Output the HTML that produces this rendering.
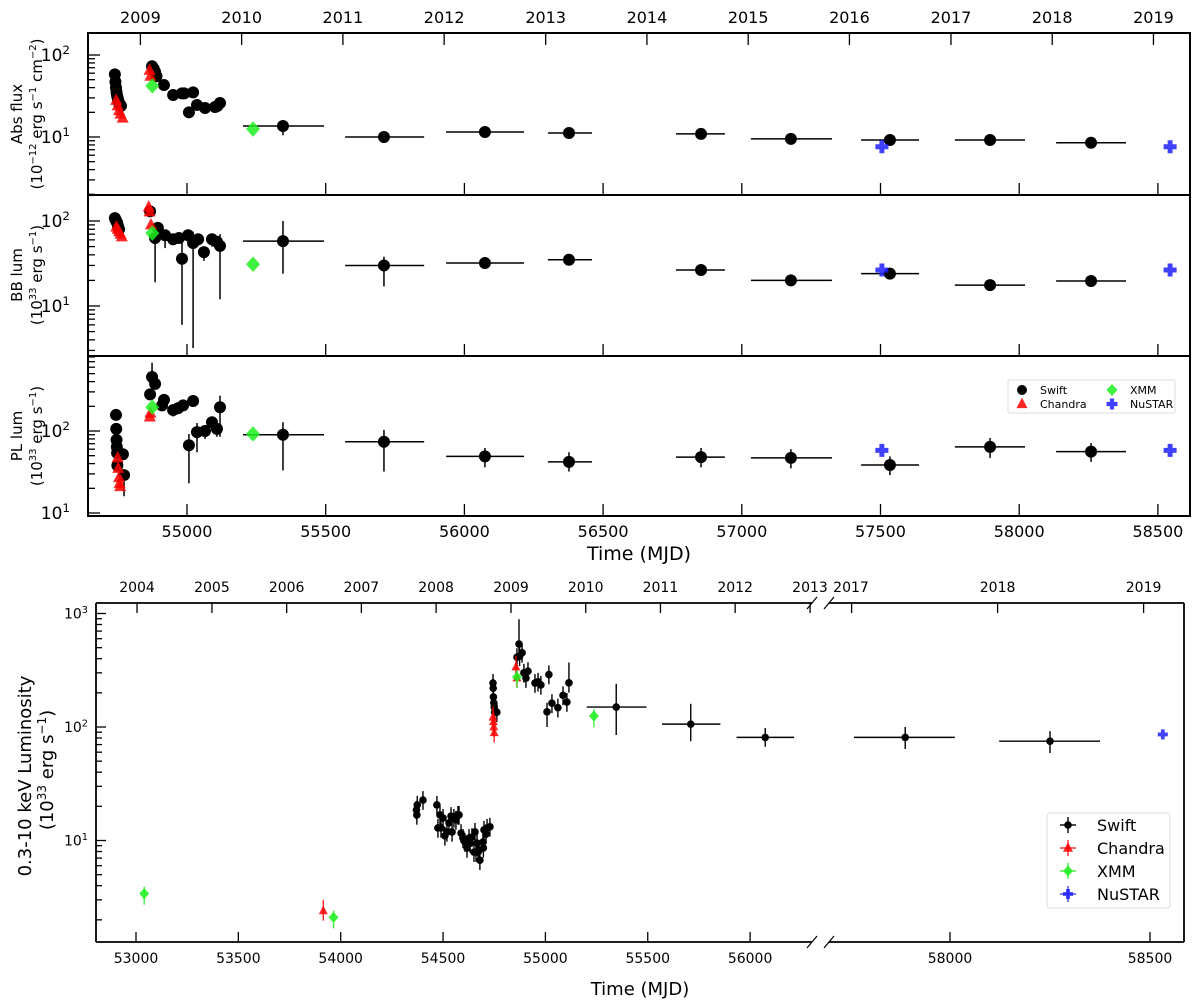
<!DOCTYPE html>
<html><head><meta charset="utf-8"><title>Light curves</title>
<style>
html,body{margin:0;padding:0;background:#fff;}
svg{display:block;font-family:"DejaVu Sans","Liberation Sans",sans-serif;}
</style></head>
<body>
<svg id="chart" width="1200" height="1004" viewBox="0 0 1200 1004" xmlns="http://www.w3.org/2000/svg"></svg>
<script>
// ===== Panel 1: absorbed flux =====
const fluxSwiftMjd = [54740,54742,54744,54746,54748,54750,54752,54755,54758,54762,54874,54880,54885,54890,54917,54950,54982,54990,55022,55007,55036,55065,55101,55119,55110];
const fluxSwiftVal = [58,47,40,35,32,30,28,26,25,24,73,68,62,55,43,32.5,34,34,35,20,24.6,22.6,23.2,26,24];
const binMjd = [55346,55710,56074,56377,56853,57177,57534,57895,58259];
const binLo = [55202,55570,55934,56301,56763,57033,57430,57768,58133];
const binHi = [55494,55855,56215,56460,56939,57325,57639,58021,58385];
const fluxBinVal = [13.6,10,11.5,11.2,10.9,9.5,9.2,9.2,8.5];
const fluxBinErrLo = [10.5,8.8,11,10.8,10.3,9.1,8.8,8.8,8.1];
const fluxBinErrHi = [14.5,11,12,11.6,11.5,9.9,9.6,9.6,8.9];
const fluxChandraMjd = [54745,54750,54755,54760,54768,54865,54868];
const fluxChandraVal = [28,24,21,19,17,65,55];
const fluxXmmMjd = [54875,55238];
const fluxXmmVal = [42,12.5];
const fluxNustarMjd = [57505,58544];
const fluxNustarVal = [7.6,7.6];

// ===== Panel 2: BB luminosity =====
const bbSwiftMjd = [54740,54742,54745,54748,54751,54755,54867,54885,54895,54921,54950,54971,54982,55004,55022,55040,55061,55090,55108,55119];
const bbSwiftVal = [108,104,100,95,88,80,130,63,83,68,61,63,36,68,55,61,43,61,57,51];
const bbSwiftErrLo = [null,null,null,null,null,null,null,19,null,48,52,55,6,null,3.2,55,34,50,null,12];
const bbSwiftErrHi = [null,null,null,null,null,null,null,null,null,null,null,null,60,null,75,null,null,null,null,70];
const bbBinVal = [58,30,32,35,26.5,20,24,17.6,19.7];
const bbBinErrLo = [24,17,30,32,24,18.5,22,16,18];
const bbBinErrHi = [100,38,34,38,29,21.5,26,19,21.5];
const bbChandraMjd = [54745,54750,54755,54760,54765,54862,54865,54870];
const bbChandraVal = [85,80,75,70,65,146,128,90];
const bbXmmMjd = [54875,55238];
const bbXmmVal = [72,31];
const bbNustarMjd = [57505,58544];
const bbNustarVal = [26.5,26.5];

// ===== Panel 3: PL luminosity =====
const plSwiftMjd = [54744,54745,54746,54747,54748,54749,54769,54773,54874,54885,54867,54917,54910,54950,54968,54986,55022,55007,55036,55065,55090,55108,55119];
const plSwiftVal = [157,106,78,64,54,38,52,29,455,375,280,240,205,180,190,205,232,67,97,100,128,106,195];
const plSwiftErrLo = [null,null,null,null,null,null,null,16,null,null,null,null,null,150,160,null,null,23,55,80,100,85,85];
const plSwiftErrHi = [null,null,null,null,null,null,null,null,680,null,null,null,null,null,null,null,null,92,125,null,null,null,270];
const plBinVal = [90,74,49,42,48,47,38.5,64,56];
const plBinErrLo = [33,32,36,32,36,35,29,47,42];
const plBinErrHi = [128,103,62,55,62,60,49,82,71];
const plChandraMjd = [54750,54752,54755,54757,54759,54866,54868];
const plChandraVal = [47,35,27,23,21,148,165];
const plXmmMjd = [54875,55238];
const plXmmVal = [195,92];
const plNustarMjd = [57505,58544];
const plNustarVal = [58,58];

// ===== Bottom: 0.3-10 keV luminosity =====
const lumSwiftMjd = [54370,54372,54374,54402,54470,54475,54485,54490,54500,54509,54519,54529,54539,54544,54553,54563,54573,54578,54588,54597,54607,54617,54627,54632,54641,54651,54656,54661,54666,54671,54676,54680,54695,54700,54710,54715,54729,54697,
  54744,54745,54746,54748,54750,54752,54763,54871,54861,54886,54874,54895,54905,54915,54949,54964,54978,55008,55017,55032,55061,55086,55105,55115];
const lumSwiftVal = [18.6,16.8,20.6,22.7,20.6,12.9,16.8,12.9,15.8,11.0,11.9,14.3,16.4,11.9,15.8,15.2,16.8,16.8,11.6,10.5,9.7,8.6,10.5,9.5,10.7,7.9,11.9,7.9,9.5,7.9,8.2,6.7,9.7,12.4,11.4,12.9,13.2,8.6,
  244,220,184,163,150,135,135,538,412,450,420,300,270,310,244,250,235,136,290,162,148,190,166,245];
const lumBinMjd = [55346,55710,56074,57888,58250];
const lumBinLo = [55202,55570,55934,57760,58123];
const lumBinHi = [55494,55855,56215,58012,58375];
const lumBinVal = [150,106,81,81,75];
const lumBinErrLo = [85,75,67,64,59];
const lumBinErrHi = [240,160,98,100,92];
const lumChandraMjd = [53915,54744,54746,54748,54750,54856,54861];
const lumChandraVal = [2.4,122,111,100,89,338,270];
const lumXmmMjd = [53040,53965,54861,55237];
const lumXmmVal = [3.4,2.1,276,125];
const lumNustarMjd = [58532];
const lumNustarVal = [86];

const topMjdTicks = [55000,55500,56000,56500,57000,57500,58000,58500];
const topYearLabels = ['2009','2010','2011','2012','2013','2014','2015','2016','2017','2018','2019'];
const topYearMjd = [54832,55197,55562,55927,56293,56658,57023,57388,57754,58119,58484];
const botMjdTicks = [53000,53500,54000,54500,55000,55500,56000,58000,58500];
const botYearLabels = ['2004','2005','2006','2007','2008','2009','2010','2011','2012','2013','2017','2018','2019'];
const botYearMjd = [53005,53371,53736,54101,54466,54832,55197,55562,55927,56293,57754,58119,58484];

const NS = 'http://www.w3.org/2000/svg';
const svg = document.getElementById('chart');
function mk(tag, parent){ const e=document.createElementNS(NS,tag); parent.appendChild(e); return e; }
function line(p,x1,y1,x2,y2,w,c){ const l=mk('line',p); l.setAttribute('x1',x1);l.setAttribute('y1',y1);l.setAttribute('x2',x2);l.setAttribute('y2',y2);l.setAttribute('stroke',c||'#000');l.setAttribute('stroke-width',w||1.5); return l; }
function txt(p,x,y,s,size,anchor){ const t=mk('text',p); t.setAttribute('x',x);t.setAttribute('y',y);t.setAttribute('font-size',size);t.setAttribute('text-anchor',anchor||'middle');t.textContent=s; return t; }
function powLabel(p,x,y,exp,size,anchor){
  const t=mk('text',p); t.setAttribute('x',x);t.setAttribute('y',y);t.setAttribute('font-size',size);t.setAttribute('text-anchor',anchor||'end');
  const a=mk('tspan',t); a.textContent='10';
  const b=mk('tspan',t); b.setAttribute('dy',-size*0.4); b.setAttribute('font-size',size*0.7); b.textContent=exp;
  return t;
}
const RED='rgba(255,0,0,0.85)', GREEN='rgba(30,240,30,0.85)', BLUE='rgba(30,30,255,0.85)';
function marker(p,kind,x,y,s){
  let m;
  if(kind==='circle'){ m=mk('circle',p); m.setAttribute('cx',x);m.setAttribute('cy',y);m.setAttribute('r',s);m.setAttribute('fill','#000'); }
  else if(kind==='tri'){ m=mk('polygon',p); m.setAttribute('points',`${x},${y-s*1.15} ${x-s},${y+s*0.75} ${x+s},${y+s*0.75}`); m.setAttribute('fill',RED); }
  else if(kind==='diamond'){ m=mk('polygon',p); m.setAttribute('points',`${x},${y-s*1.1} ${x+s},${y} ${x},${y+s*1.1} ${x-s},${y}`); m.setAttribute('fill',GREEN); }
  else { m=mk('path',p); const a=s, b=s*0.38; m.setAttribute('d',`M${x-b},${y-a}H${x+b}V${y-b}H${x+a}V${y+b}H${x+b}V${y+a}H${x-b}V${y+b}H${x-a}V${y-b}H${x-b}Z`); m.setAttribute('fill',BLUE); }
  return m;
}
function series(p,name,kind,mjd,val,X,Y,s,opt){
  opt=opt||{};
  const g=mk('g',p);
  
  
  for(let i=0;i<mjd.length;i++){
    const x=X(mjd[i]), y=Y(val[i]);
    const col = kind==='circle'?'#000':(kind==='tri'?RED:(kind==='diamond'?GREEN:BLUE));
    if(opt.lo && opt.lo[i]!=null) line(g,x,y,x,Y(opt.lo[i]),opt.w||1.5,col);
    if(opt.hi && opt.hi[i]!=null) line(g,x,y,x,Y(opt.hi[i]),opt.w||1.5,col);
    if(opt.xlo) line(g,X(opt.xlo[i]),y,X(opt.xhi[i]),y,opt.w||1.5,col);
    const m=marker(g,kind,x,y,s);
    
    
  }
  return g;
}
function logTicks(p,X0,Y,top,bot,major,minor,labelX,size,expRange){
  const lo=expRange[0], hi=expRange[1];
  for(let d=lo; d<=hi; d++){
    for(let k=1;k<10;k++){
      const v=k*Math.pow(10,d), y=Y(v);
      if(y<top-0.5||y>bot+0.5) continue;
      line(p,X0,y,X0+(k===1?major:minor),y,1.3);
      if(k===1 && labelX!=null) powLabel(p,labelX,y+size*0.35,String(d),size);
    }
  }
}

// ===== TOP FIGURE =====
const TX = m => 187 + (m-55000)*0.2774;
const L=88, R=1190;
const panels = [
  {name:'abs-flux-panel', top:33, bot:195, Y:v=>137-82*(Math.log10(v)-1), er:[0,2], t1:'Abs flux', t2:['(10','−12',' erg s','−1',' cm','−2',')'], cy:114},
  {name:'bb-lum-panel', top:195, bot:356, Y:v=>221-85*(Math.log10(v)-2), er:[0,2], t1:'BB lum', t2:['(10','33',' erg s','−1',')'], cy:275},
  {name:'pl-lum-panel', top:356, bot:516, Y:v=>431-82*(Math.log10(v)-2), er:[0,2], t1:'PL lum', t2:['(10','33',' erg s','−1',')'], cy:436}
];
panels.forEach((P,pi)=>{
  const g=mk('g',svg);
  
  
  const clipId='clip'+pi;
  const cp=mk('clipPath',g); cp.setAttribute('id',clipId);
  const cr=mk('rect',cp); cr.setAttribute('x',L);cr.setAttribute('y',P.top);cr.setAttribute('width',R-L);cr.setAttribute('height',P.bot-P.top);
  const ax=mk('g',g);
  
  
  logTicks(ax,L,P.Y,P.top,P.bot,12,7,70,17,[0,2]);
  topMjdTicks.forEach(m=>{ line(ax,TX(m),P.bot,TX(m),P.bot-12,1.3); if(pi===2) txt(ax,TX(m),P.bot+21,String(m),16); });
  if(pi===0) topYearMjd.forEach((m,i)=>{ line(ax,TX(m),P.top,TX(m),P.top+12,1.3); txt(ax,TX(m),P.top-10,topYearLabels[i],16); });
  const tg=mk('g',g);
  
  
  const t1=txt(tg,0,0,P.t1,15); t1.setAttribute('transform',`translate(22,${P.cy}) rotate(-90)`);
  const t2=mk('text',tg); t2.setAttribute('font-size',15); t2.setAttribute('text-anchor','middle'); t2.setAttribute('transform',`translate(42,${P.cy}) rotate(-90)`);
  P.t2.forEach((s,i)=>{ const ts=mk('tspan',t2); ts.textContent=s; if(i%2===1){ts.setAttribute('font-size',10);ts.setAttribute('dy',-6);} else if(i>0){ts.setAttribute('dy',6);} });
  const dg=mk('g',g); dg.setAttribute('clip-path',`url(#${clipId})`);
  
  
  if(pi===0){
    series(dg,'swift-flux','circle',fluxSwiftMjd,fluxSwiftVal,TX,P.Y,6);
    series(dg,'swift-flux-bins','circle',binMjd,fluxBinVal,TX,P.Y,6,{lo:fluxBinErrLo,hi:fluxBinErrHi,xlo:binLo,xhi:binHi});
    series(dg,'chandra-flux','tri',fluxChandraMjd,fluxChandraVal,TX,P.Y,6);
    series(dg,'xmm-flux','diamond',fluxXmmMjd,fluxXmmVal,TX,P.Y,7);
    series(dg,'nustar-flux','plus',fluxNustarMjd,fluxNustarVal,TX,P.Y,6.5);
  } else if(pi===1){
    series(dg,'swift-bb','circle',bbSwiftMjd,bbSwiftVal,TX,P.Y,6,{lo:bbSwiftErrLo,hi:bbSwiftErrHi});
    series(dg,'swift-bb-bins','circle',binMjd,bbBinVal,TX,P.Y,6,{lo:bbBinErrLo,hi:bbBinErrHi,xlo:binLo,xhi:binHi});
    series(dg,'chandra-bb','tri',bbChandraMjd,bbChandraVal,TX,P.Y,6);
    series(dg,'xmm-bb','diamond',bbXmmMjd,bbXmmVal,TX,P.Y,7);
    series(dg,'nustar-bb','plus',bbNustarMjd,bbNustarVal,TX,P.Y,6.5);
  } else {
    series(dg,'swift-pl','circle',plSwiftMjd,plSwiftVal,TX,P.Y,6,{lo:plSwiftErrLo,hi:plSwiftErrHi});
    series(dg,'swift-pl-bins','circle',binMjd,plBinVal,TX,P.Y,6,{lo:plBinErrLo,hi:plBinErrHi,xlo:binLo,xhi:binHi});
    series(dg,'chandra-pl','tri',plChandraMjd,plChandraVal,TX,P.Y,6);
    series(dg,'xmm-pl','diamond',plXmmMjd,plXmmVal,TX,P.Y,7);
    series(dg,'nustar-pl','plus',plNustarMjd,plNustarVal,TX,P.Y,6.5);
  }
  const box=mk('rect',g); box.setAttribute('x',L);box.setAttribute('y',P.top);box.setAttribute('width',R-L);box.setAttribute('height',P.bot-P.top);box.setAttribute('fill','none');box.setAttribute('stroke','#000');box.setAttribute('stroke-width',2);
});
(function(){
  const g=mk('g',svg);
  
  
  const r=mk('rect',g); r.setAttribute('x',1008);r.setAttribute('y',380);r.setAttribute('width',167);r.setAttribute('height',33);r.setAttribute('rx',2);r.setAttribute('fill','#fff');r.setAttribute('stroke','#ddd');
  const items=[['circle',1022,390,'Swift'],['tri',1022,404,'Chandra'],['diamond',1112,390,'XMM'],['plus',1112,404,'NuSTAR']];
  items.forEach(it=>{ const e=mk('g',g);
    
    
    marker(e,it[0],it[1],it[2],it[0]==='circle'?5:5.5); txt(e,it[1]+18,it[2]+4,it[3],11,'start'); });
})();
const xt1=txt(svg,639,560,'Time (MJD)',19);



// ===== BOTTOM FIGURE =====
const BX = m => m<=56400 ? 136+(m-53000)*0.2047 : 950+(m-58000)*0.4;
const BY = v => 727-113.5*(Math.log10(v)-2);
const BL=96, BR=1184, BT=603, BB=942, BRK1=812, BRK2=829;
(function(){
  const g=mk('g',svg);
  
  
  const cp=mk('clipPath',g); cp.setAttribute('id','clipb');
  const cr=mk('rect',cp); cr.setAttribute('x',BL);cr.setAttribute('y',BT);cr.setAttribute('width',BR-BL);cr.setAttribute('height',BB-BT);
  const ax=mk('g',g);
  
  
  logTicks(ax,BL,BY,BT,BB,10,6,88,14,[0,3]);
  botMjdTicks.forEach(m=>{ line(ax,BX(m),BB,BX(m),BB-10,1.3); txt(ax,BX(m),BB+21,String(m),14); });
  botYearMjd.forEach((m,i)=>{ line(ax,BX(m),BT,BX(m),BT+10,1.3); });
  botYearLabels.forEach((s,i)=>{ let x=BX(botYearMjd[i]); if(s==='2013') x=810; if(s==='2017') x=851; txt(ax,x,BT-11,s,14); });
  line(ax,BL,BT,BRK1,BT,1.8); line(ax,BRK2,BT,BR,BT,1.8);
  line(ax,BL,BB,BRK1,BB,1.8); line(ax,BRK2,BB,BR,BB,1.8);
  line(ax,BL,BT,BL,BB,1.8); line(ax,BR,BT,BR,BB,1.8);
  [BT,BB].forEach(y=>{ line(ax,BRK1-5,y+6,BRK1+5,y-6,1.2); line(ax,BRK2-5,y+6,BRK2+5,y-6,1.2); });
  const dg=mk('g',g); dg.setAttribute('clip-path','url(#clipb)');
  
  
  const swLo=lumSwiftVal.map(v=>v*0.82), swHi=lumSwiftVal.map(v=>v*1.2);
  swHi[lumSwiftMjd.indexOf(54871)]=890; swHi[lumSwiftMjd.indexOf(55115)]=370; swLo[lumSwiftMjd.indexOf(55008)]=100;
  series(dg,'swift-lum','circle',lumSwiftMjd,lumSwiftVal,BX,BY,3.8,{lo:swLo,hi:swHi,w:1.4});
  series(dg,'swift-lum-bins','circle',lumBinMjd,lumBinVal,BX,BY,3.8,{lo:lumBinErrLo,hi:lumBinErrHi,xlo:lumBinLo,xhi:lumBinHi,w:1.4});
  series(dg,'chandra-lum','tri',lumChandraMjd,lumChandraVal,BX,BY,4.5,{lo:lumChandraVal.map(v=>v*0.82),hi:lumChandraVal.map(v=>v*1.25),w:1.4});
  series(dg,'xmm-lum','diamond',lumXmmMjd,lumXmmVal,BX,BY,5,{lo:lumXmmVal.map(v=>v*0.8),hi:lumXmmVal.map(v=>v*1.15),w:1.4});
  series(dg,'nustar-lum','plus',lumNustarMjd,lumNustarVal,BX,BY,5);
  const tg=mk('g',g);
  
  
  const t1=txt(tg,0,0,'0.3-10 keV Luminosity',18); t1.setAttribute('transform','translate(31,776) rotate(-90)');
  const t2=mk('text',tg); t2.setAttribute('font-size',18); t2.setAttribute('text-anchor','middle'); t2.setAttribute('transform','translate(53,770) rotate(-90)');
  ['(10','33',' erg s','−1',')'].forEach((s,i)=>{ const ts=mk('tspan',t2); ts.textContent=s; if(i%2===1){ts.setAttribute('font-size',12);ts.setAttribute('dy',-7);} else if(i>0){ts.setAttribute('dy',7);} });
  const lg=mk('g',g);
  
  
  const r=mk('rect',lg); r.setAttribute('x',1047);r.setAttribute('y',813);r.setAttribute('width',123);r.setAttribute('height',95);r.setAttribute('rx',3);r.setAttribute('fill','#fff');r.setAttribute('stroke','#ddd');
  [['circle','Swift',825],['tri','Chandra',848],['diamond','XMM',871],['plus','NuSTAR',894]].forEach(it=>{
    const e=mk('g',lg);
    
    
    const col=it[0]==='circle'?'#000':(it[0]==='tri'?RED:(it[0]==='diamond'?GREEN:BLUE));
    line(e,1068,it[2]-8,1068,it[2]+8,1.4,col); line(e,1060,it[2],1076,it[2],1.4,col);
    marker(e,it[0],1068,it[2],it[0]==='circle'?3.8:5);
    txt(e,1097,it[2]+6,it[1],16,'start');
  });
})();
const xt2=txt(svg,640,995,'Time (MJD)',18);


</script>
</body></html>
